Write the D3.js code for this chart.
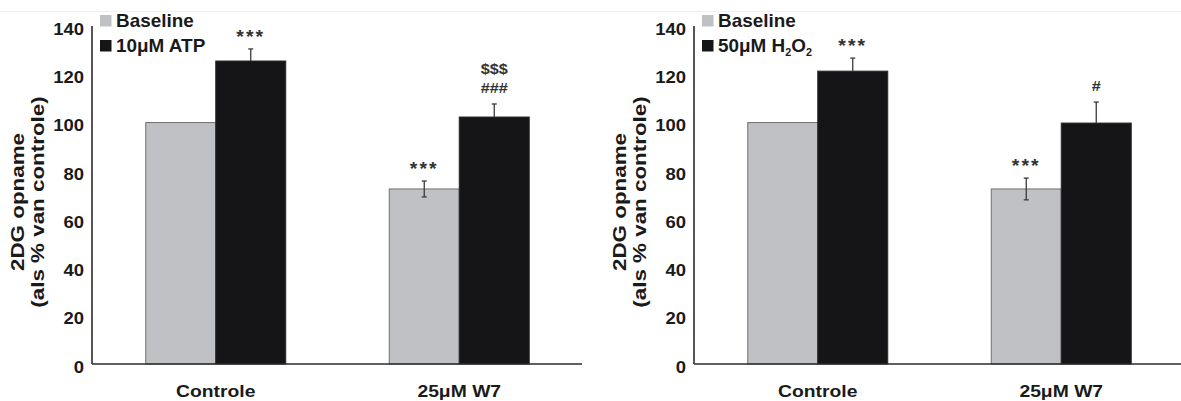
<!DOCTYPE html>
<html><head><meta charset="utf-8">
<script src="https://cdn.jsdelivr.net/npm/d3@7"></script>
<style>
html,body{margin:0;padding:0;background:#fff;}
svg{display:block;font-family:"Liberation Sans",Arial,Helvetica,sans-serif;font-weight:bold;}
</style></head><body>
<svg id="chart" width="1181" height="401"></svg>
<script>
// ---- data ----
const categories = ["Controle", "25μM W7"];
const yTicks = [0, 20, 40, 60, 80, 100, 120, 140];
const yLabelLines = ["2DG opname", "(als % van controle)"];

// ATP panel
const atpLegend = [[["Baseline", false]], [["10μM ATP", false]]];
const atpBaseline = [100, 72.5];
const atpBaselineErr = [0, 3.3];
const atpTreated = [125.5, 102.3];
const atpTreatedErr = [5.0, 5.4];
const atpBaselineMarks = [[], ["***"]];
const atpTreatedMarks = [["***"], ["###", "$$$"]];

// H2O2 panel
const h2o2Legend = [[["Baseline", false]], [["50μM H", false], ["2", true], ["O", false], ["2", true]]];
const h2o2Baseline = [100, 72.5];
const h2o2BaselineErr = [0, 4.5];
const h2o2Treated = [121.3, 99.8];
const h2o2TreatedErr = [5.4, 8.7];
const h2o2BaselineMarks = [[], ["***"]];
const h2o2TreatedMarks = [["***"], ["#"]];

// ---- styling ----
const GREY = "#c0c1c5", BLACK = "#151517", INK = "#1a1a1a";
const svg = d3.select("#chart");

// faint rule near the top edge
svg.append("line").attr("x1", 0).attr("x2", 1181).attr("y1", 11.5).attr("y2", 11.5)
  .attr("stroke", "#f0f0f0").attr("stroke-width", 1);

// text helper: glyphs widened along the reading direction
function stretchedText(parent, x, y, sx, rot) {
  const g = parent.append("g")
    .attr("transform", `translate(${x},${y})` + (rot ? ` rotate(${rot})` : "") + ` scale(${sx},1)`);
  return g.append("text").attr("fill", INK);
}

function drawPanel(ox, legend, base, baseErr, treat, treatErr, baseMarks, treatMarks) {
  const W = 490;
  const g = svg.append("g").attr("transform", `translate(${ox},0)`);
  const y = d3.scaleLinear().domain([0, 140]).range([364, 26]);
  const x0 = d3.scaleBand().domain(categories).range([2, 489]).padding(0);
  const barW = 70;
  const x1 = d3.scaleBand().domain([0, 1])
    .range([x0.bandwidth() / 2 - barW, x0.bandwidth() / 2 + barW]).padding(0);

  // y label (two centred lines, rotated)
  yLabelLines.forEach((t, i) => {
    stretchedText(g, [-74, -54][i], 202, 1.28, -90)
      .attr("text-anchor", "middle").attr("dy", "0.35em")
      .attr("font-size", 17.5).text(t);
  });

  // y tick labels
  yTicks.forEach(v => {
    stretchedText(g, -8, y(v) + 3, 1.12)
      .attr("text-anchor", "end").attr("dy", "0.35em")
      .attr("font-size", 16.5).text(v);
  });

  const rows = categories.map((c, i) => [
    { cat: c, s: 0, v: base[i], e: baseErr[i], marks: baseMarks[i] },
    { cat: c, s: 1, v: treat[i], e: treatErr[i], marks: treatMarks[i] }
  ]).flat();

  // bars
  g.selectAll("rect.bar").data(rows).join("rect")
    .attr("class", "bar")
    .attr("x", d => x0(d.cat) + x1(d.s))
    .attr("width", x1.bandwidth())
    .attr("y", d => y(d.v))
    .attr("height", d => y(0) - y(d.v))
    .attr("fill", d => d.s === 0 ? GREY : BLACK)
    .attr("stroke", d => d.s === 0 ? "#6f6f72" : "#2a2a2a")
    .attr("stroke-width", 1);

  // error bars (lower half only shows against the grey bars)
  const cx = d => x0(d.cat) + x1(d.s) + x1.bandwidth() / 2;
  const errRows = rows.filter(d => d.e > 0);
  const eg = g.selectAll("g.err").data(errRows).join("g").attr("class", "err")
    .attr("stroke", "#3a3a3a").attr("stroke-width", 1.3);
  eg.append("line").attr("x1", cx).attr("x2", cx)
    .attr("y1", d => d.s === 0 ? y(d.v - d.e) : y(d.v)).attr("y2", d => y(d.v + d.e));
  eg.append("line").attr("x1", d => cx(d) - 2.5).attr("x2", d => cx(d) + 2.5)
    .attr("y1", d => y(d.v + d.e)).attr("y2", d => y(d.v + d.e));
  eg.filter(d => d.s === 0).append("line").attr("x1", d => cx(d) - 2.5).attr("x2", d => cx(d) + 2.5)
    .attr("y1", d => y(d.v - d.e)).attr("y2", d => y(d.v - d.e));

  // significance marks, stacked upward from the error bar
  rows.forEach(d => {
    d.marks.forEach((m, k) => {
      const top = y(d.v + d.e);
      const t = stretchedText(g, cx(d), top - 16 - k * 19, 1.08)
        .attr("text-anchor", "middle").attr("dy", "0.35em")
        .attr("font-size", 15).attr("fill", "#333").text(m);
      if (m === "***") t.attr("letter-spacing", 2).attr("font-size", 18).attr("dy", "0.55em");
    });
  });

  // axes
  g.append("line").attr("x1", 0).attr("x2", 0).attr("y1", y(140)).attr("y2", y(0))
    .attr("stroke", "#2b2b2b").attr("stroke-width", 1.6);
  g.append("line").attr("x1", 0).attr("x2", W).attr("y1", y(0)).attr("y2", y(0))
    .attr("stroke", "#2b2b2b").attr("stroke-width", 1.6);

  // category labels
  categories.forEach(c => {
    stretchedText(g, x0(c) + x0.bandwidth() / 2, 397, 1.15)
      .attr("text-anchor", "middle").attr("font-size", 16.8).text(c);
  });

  // legend
  legend.forEach((parts, i) => {
    const ly = [21, 46][i];
    g.append("rect").attr("x", 8).attr("y", ly - 6).attr("width", 11.5).attr("height", 11.5)
      .attr("fill", i === 0 ? GREY : BLACK);
    const t = stretchedText(g, 24, ly, 1.08).attr("dy", "0.35em").attr("font-size", 17.5);
    parts.forEach(([s, sub], j) => {
      const ts = t.append("tspan").text(s);
      if (sub) ts.attr("font-size", 10).attr("dy", 4);
      else if (j > 0) ts.attr("dy", -4);
    });
  });
}

drawPanel(92, atpLegend, atpBaseline, atpBaselineErr, atpTreated, atpTreatedErr, atpBaselineMarks, atpTreatedMarks);
drawPanel(694, h2o2Legend, h2o2Baseline, h2o2BaselineErr, h2o2Treated, h2o2TreatedErr, h2o2BaselineMarks, h2o2TreatedMarks);
</script>
</body></html>
